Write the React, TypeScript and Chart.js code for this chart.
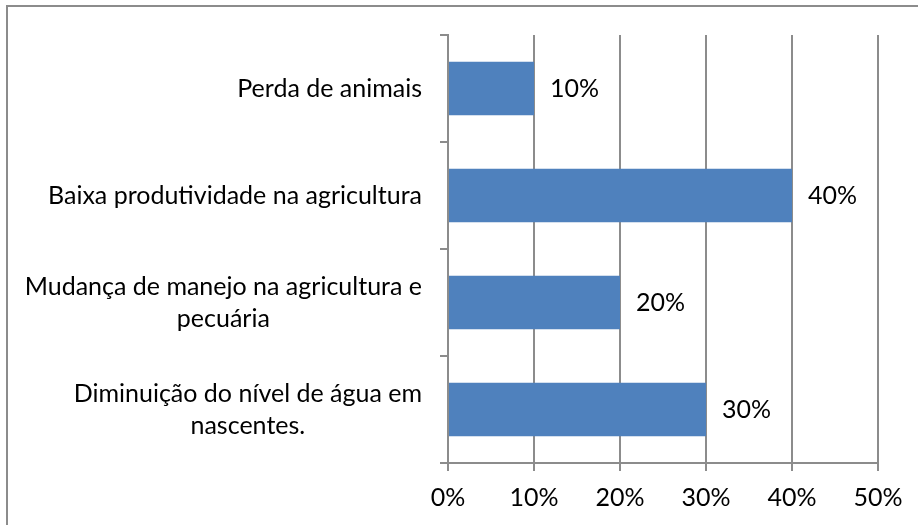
import React, { useEffect, useRef } from "react";
import { Chart, registerables } from "chart.js";

Chart.register(...registerables);

const categories: string[][] = [
  ["Perda de animais"],
  ["Baixa produtividade na agricultura"],
  ["Mudança de manejo na agricultura e", "pecuária"],
  ["Diminuição do nível de água em", "nascentes."],
];
const values: number[] = [10, 40, 20, 30];
const axisMin = 0;
const axisMax = 50;
const axisStep = 10;

const FONT_FAMILY = "Lato, 'Open Sans', sans-serif";
const FONT_SIZE = 25;
const GRID = "#8c8c8c";

const framePlugin = {
  id: "frame",
  beforeDraw(chart: any) {
    const ctx = chart.ctx;
    ctx.save();
    ctx.strokeStyle = "#8c8c8c";
    ctx.lineWidth = 2;
    ctx.strokeRect(7, 6, 3000, 3000);
    ctx.restore();
  },
};

const labelsPlugin = {
  id: "customLabels",
  afterDraw(chart: any) {
    const ctx = chart.ctx;
    const yScale = chart.scales.y;
    const meta = chart.getDatasetMeta(0);
    ctx.save();
    ctx.font = `${FONT_SIZE}px ${FONT_FAMILY}`;
    ctx.fillStyle = "#000";
    ctx.textBaseline = "middle";
    // category labels: block right-aligned, lines centered within block
    const rightEdge = chart.chartArea.left - 26;
    const lh = 32;
    categories.forEach((lines, i) => {
      const cy = yScale.getPixelForValue(i);
      const blockW = Math.max(...lines.map((l) => ctx.measureText(l).width));
      const cx = rightEdge - blockW / 2;
      ctx.textAlign = "center";
      lines.forEach((line, j) => {
        const y = cy - ((lines.length - 1) * lh) / 2 + j * lh;
        ctx.fillText(line, cx, y);
      });
    });
    // data labels
    ctx.textAlign = "left";
    meta.data.forEach((bar: any, i: number) => {
      ctx.fillText(`${values[i]}%`, bar.x + 16, bar.y);
    });
    ctx.restore();
  },
};

export default function App() {
  const ref = useRef<HTMLCanvasElement | null>(null);
  useEffect(() => {
    if (!ref.current) return;
    const chart = new Chart(ref.current, {
      type: "bar",
      data: {
        labels: categories.map((c) => c.join(" ")),
        datasets: [
          {
            data: values,
            backgroundColor: "#4F81BD",
            borderWidth: 0,
            categoryPercentage: 1,
            barPercentage: 0.5,
          },
        ],
      },
      options: {
        indexAxis: "y",
        responsive: false,
        animation: false,
        layout: { padding: { left: 0, top: 35, right: 40, bottom: 0 } },
        plugins: {
          legend: { display: false },
          tooltip: { enabled: false },
        },
        scales: {
          x: {
            type: "linear",
            min: axisMin,
            max: axisMax,
            afterFit(scale: any) {
              scale.height = 62;
            },
            ticks: {
              stepSize: axisStep,
              callback: (v: any) => `${v}%`,
              color: "#000",
              font: { family: FONT_FAMILY, size: FONT_SIZE },
              padding: 12,
              maxRotation: 0,
            },
            grid: {
              color: GRID,
              lineWidth: 2,
              tickLength: 8,
              drawTicks: true,
            },
            border: { display: true, color: GRID, width: 2 },
          },
          y: {
            type: "category",
            afterFit(scale: any) {
              scale.width = 448;
            },
            ticks: { display: false },
            grid: {
              offset: true,
              drawOnChartArea: false,
              color: GRID,
              lineWidth: 2,
              tickLength: 8,
            },
            border: { display: true, color: GRID, width: 2 },
          },
        },
      },
      plugins: [framePlugin, labelsPlugin],
    } as any);
    return () => chart.destroy();
  }, []);
  return (
    <div style={{ position: "absolute", left: 0, top: 0, width: 918, height: 525 }}>
      <canvas ref={ref} width={918} height={525} style={{ width: 918, height: 525 }} />
    </div>
  );
}
